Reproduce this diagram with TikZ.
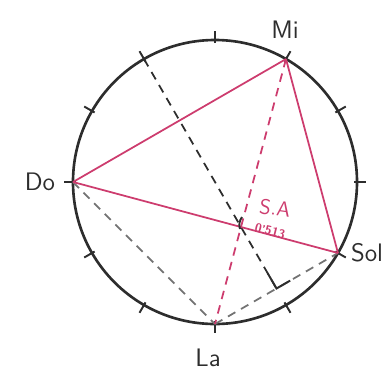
\documentclass[tikz,border=0pt]{standalone}
\usepackage{xcolor}
\usepackage{tikz}
\usetikzlibrary{calc}

\definecolor{rosa}{RGB}{205,60,110}
\definecolor{lapiz}{RGB}{45,45,45}
\definecolor{gris}{RGB}{115,115,115}

\begin{document}
\begin{tikzpicture}[x=0.2mm, y=0.2mm,
    rueda/.style={draw=lapiz, line width=1.5pt},
    marca/.style={draw=lapiz, line width=1.1pt},
    lado/.style={draw=rosa, line width=1pt},
    guia/.style={dashed, dash pattern=on 1.7mm off 1.3mm, line width=1pt},
    nota/.style={font=\sffamily\Large, text=lapiz}]
    \useasboundingbox (-215,-196) rectangle (174,182);

    \draw[rueda] (0,0) circle (142);
    \foreach \a in {0,30,...,330}
        \draw[marca] (\a:139) -- (\a:151);

    \coordinate (Do) at (180:142);
    \coordinate (Re) at (120:142);
    \coordinate (Mi) at (60:142);
    \coordinate (Sol) at (-30:142);
    \coordinate (La) at (-90:142);
    \coordinate (pie) at ($(La)!0.5!(Sol)$);
    \coordinate (cruce) at (intersection of Mi--La and Do--Sol);

    \node[nota] at (-175,0) (tDo) {Do};
    \node[nota] at (70,152) (tMi) {Mi};
    \node[nota] at (152,-71) (tSol) {Sol};
    \node[nota] at (-7,-176) (tLa) {La};

    \draw[guia, gris] (Do) -- (La);
    \draw[guia, gris] (La) -- (Sol);
    \draw[guia, rosa] (Mi) -- (La);
    \draw[guia, lapiz] (Re) -- (pie);
    \draw[marca] ($(pie)!10pt!(Re)$) -- (pie) -- ($(pie)!9pt!(Sol)$);

    \draw[lado] (Do) -- (Mi);
    \draw[lado] (Mi) -- (Sol);
    \draw[lado] (Do) -- (Sol);

    \draw[marca] ($(cruce)+(-1,-2)$) to[bend left=25] ($(cruce)+(1,10)$);

    \node[font=\sffamily\large, text=rosa, rotate=-8, inner sep=1pt] at (60,-26) (sa) {S.A};
    \node[font=\sffamily\scriptsize\bfseries, text=rosa, rotate=-14, inner sep=1pt] at (55,-49) (val) {0'513};
\end{tikzpicture}
\end{document}
